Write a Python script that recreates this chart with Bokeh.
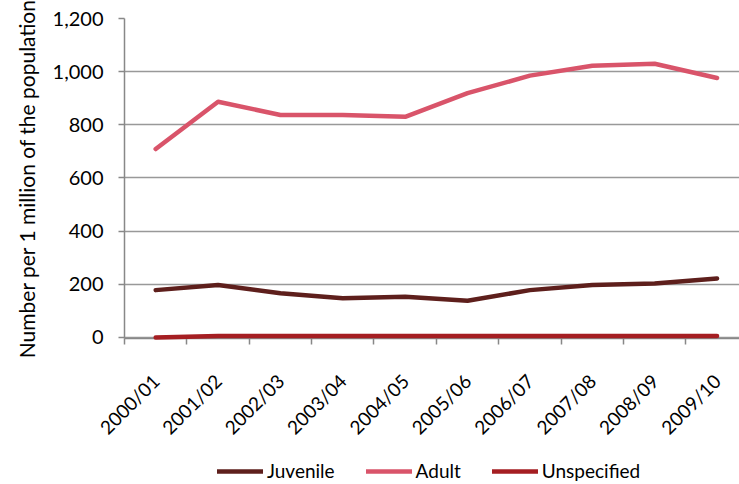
from bokeh.plotting import figure
from bokeh.models import Range1d, FixedTicker, Legend, LegendItem
from bokeh.layouts import column
from bokeh.embed import file_html
from bokeh.resources import INLINE
import math

# Financial years and rates per 1 million of the population
years = ["2000/01", "2001/02", "2002/03", "2003/04", "2004/05",
         "2005/06", "2006/07", "2007/08", "2008/09", "2009/10"]
series_names = ["Juvenile", "Adult", "Unspecified"]
juvenile = [178, 197, 166, 147, 153, 138, 178, 197, 203, 222]
adult = [709, 887, 837, 837, 830, 919, 985, 1022, 1030, 976]
unspecified = [0, 5, 5, 5, 5, 5, 5, 5, 5, 5]
colors = ["#5E1F1C", "#D9546A", "#A51E22"]

FONT = "Lato"
LW = 4.5
xs = list(range(len(years)))

p = figure(width=739, height=460, output_backend="svg", toolbar_location=None,
           x_range=Range1d(-0.5, 9.36), y_range=Range1d(-4, 1200),
           title="Number per 1 million of the population", title_location="left",
           min_border_left=124, min_border_right=0, min_border_top=18,
           min_border_bottom=122, outline_line_color=None)
p.background_fill_color = "white"
p.border_fill_color = "white"

# vertical title at the left, shifted slightly below the frame centre
p.title.align = "center"
p.title.offset = 15
p.title.standoff = 22
p.title.text_font = FONT
p.title.text_font_style = "normal"
p.title.text_font_size = "21px"
p.title.text_color = "#000000"

# y axis
p.yaxis.ticker = FixedTicker(ticks=[0, 200, 400, 600, 800, 1000, 1200])
p.yaxis.major_label_overrides = {0: "0", 200: "200", 400: "400", 600: "600",
                                 800: "800", 1000: "1,000", 1200: "1,200"}
p.yaxis.major_label_text_font = FONT
p.yaxis.major_label_text_font_size = "20px"
p.yaxis.major_label_text_color = "#000000"
p.yaxis.major_label_standoff = 15
p.yaxis.axis_line_color = "#888888"
p.yaxis.axis_line_width = 1.5
p.yaxis.major_tick_line_color = "#888888"
p.yaxis.major_tick_line_width = 1.5
p.yaxis.major_tick_out = 6
p.yaxis.major_tick_in = 0
p.yaxis.minor_tick_line_color = None

# x axis: labels at category centres, tick marks at category boundaries
p.xaxis.ticker = FixedTicker(ticks=xs, minor_ticks=[i - 0.5 for i in range(len(years) + 1)])
p.xaxis.major_label_overrides = {i: y for i, y in enumerate(years)}
p.xaxis.major_label_orientation = math.pi / 4
p.xaxis.major_label_text_font = FONT
p.xaxis.major_label_text_font_size = "19px"
p.xaxis.major_label_text_color = "#000000"
p.xaxis.major_label_standoff = 33
p.xaxis.axis_line_color = "#888888"
p.xaxis.axis_line_width = 1.5
p.xaxis.major_tick_line_color = None
p.xaxis.major_tick_out = 6
p.xaxis.minor_tick_line_color = "#888888"
p.xaxis.minor_tick_line_width = 1.5
p.xaxis.minor_tick_out = 6
p.xaxis.minor_tick_in = 0

# grid
p.xgrid.grid_line_color = None
p.ygrid.grid_line_color = "#999999"
p.ygrid.grid_line_width = 1.5

for vals, c in zip([juvenile, adult, unspecified], colors):
    p.line(xs, vals, line_color=c, line_width=LW, line_cap="round",
           line_join="round", level="overlay")

# legend strip underneath the chart (its renderers sit outside the visible range)
leg = figure(width=739, height=24, output_backend="svg", toolbar_location=None,
             x_range=Range1d(0, 1), y_range=Range1d(0, 1),
             x_axis_location=None, y_axis_location=None,
             min_border_left=124, min_border_right=0, min_border_top=0,
             min_border_bottom=0, outline_line_color=None)
leg.xgrid.grid_line_color = None
leg.ygrid.grid_line_color = None
items = []
for name, c in zip(series_names, colors):
    r = leg.line([-5, -4], [-5, -5], line_color=c, line_width=LW, line_cap="round")
    items.append(LegendItem(label=name, renderers=[r]))
legend = Legend(items=items, orientation="horizontal", location=(93, 2),
                glyph_width=46, glyph_height=20, label_height=20,
                label_standoff=4, spacing=31, padding=0, margin=0,
                border_line_color=None, background_fill_alpha=0,
                label_text_font=FONT, label_text_font_size="19px",
                label_text_color="#000000")
leg.add_layout(legend)

open("out.html", "w").write(file_html(column(p, leg, spacing=0), INLINE))
